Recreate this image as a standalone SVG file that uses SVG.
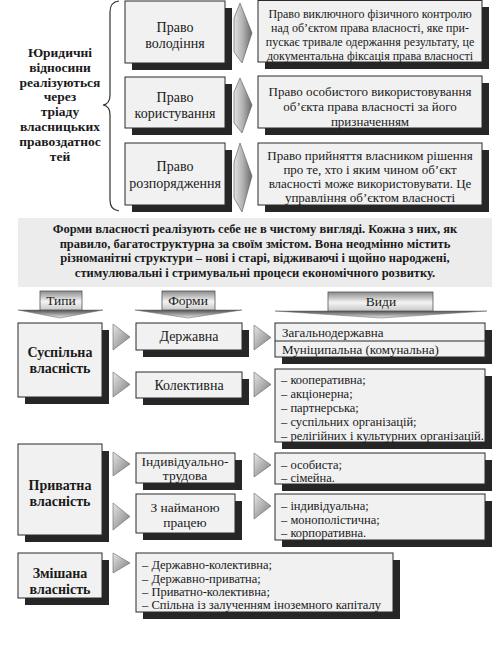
<svg xmlns="http://www.w3.org/2000/svg" width="504" height="647" viewBox="0 0 504 647">
<defs>
<linearGradient id="gChev" x1="0" y1="0" x2="1" y2="0"><stop offset="0" stop-color="#e2e2e2"/><stop offset="0.5" stop-color="#b0b0b0"/><stop offset="1" stop-color="#6a6a6a"/></linearGradient>
<linearGradient id="gTri" x1="0" y1="0" x2="1" y2="1"><stop offset="0" stop-color="#e6e6e6"/><stop offset="1" stop-color="#7a7a7a"/></linearGradient>
<linearGradient id="gHead" x1="0" y1="0" x2="0" y2="1"><stop offset="0" stop-color="#8a8a8a"/><stop offset="0.55" stop-color="#f4f4f4"/><stop offset="1" stop-color="#c8c8c8"/></linearGradient>
<linearGradient id="gHeadArr" x1="0" y1="0" x2="0" y2="1"><stop offset="0" stop-color="#505050"/><stop offset="1" stop-color="#e8e8e8"/></linearGradient>
<style>
.box{fill:#f1f1f1;stroke:#2a2a2a;stroke-width:1}
.sh{fill:#262626}
.t{font-family:"Liberation Serif","Times New Roman","DejaVu Serif",serif;fill:#1a1a1a}
.b{font-weight:bold}
.c{text-anchor:middle}
.chev{fill:url(#gChev);stroke:#555;stroke-width:0.6}
.tri{fill:url(#gTri);stroke:#666;stroke-width:0.6}
.hr{fill:url(#gHead);stroke:#555;stroke-width:0.8}
.ha{fill:url(#gHeadArr);stroke:#666;stroke-width:0.5}
.brace{fill:none;stroke:#333;stroke-width:1.2}
</style>
</defs>
<rect width="504" height="647" fill="#ffffff"/>

<!-- Top section -->
<g id="legal-relations">
<text class="t b c" font-size="13.5" x="60"><tspan x="60" y="57">Юридичні</tspan><tspan x="60" y="72">відносини</tspan><tspan x="60" y="87">реалізуються</tspan><tspan x="60" y="101">через</tspan><tspan x="60" y="116">тріаду</tspan><tspan x="60" y="131">власницьких</tspan><tspan x="60" y="146">правоздатнос</tspan><tspan x="60" y="161">тей</tspan></text>
</g>

<g id="right-possession">
<rect class="sh" x="132" y="8" width="100" height="62"/>
<rect class="box" x="125" y="1" width="100" height="62"/>
<text class="t c" font-size="14"><tspan x="175" y="32">Право</tspan><tspan x="175" y="48">володіння</tspan></text>
</g>
<g id="right-use">
<rect class="sh" x="132" y="84" width="100" height="51"/>
<rect class="box" x="125" y="77" width="100" height="51"/>
<text class="t c" font-size="14"><tspan x="175" y="102">Право</tspan><tspan x="175" y="118">користування</tspan></text>
</g>
<g id="right-disposal">
<rect class="sh" x="132" y="150" width="100" height="62"/>
<rect class="box" x="125" y="143" width="100" height="62"/>
<text class="t c" font-size="14"><tspan x="175" y="171">Право</tspan><tspan x="175" y="188">розпорядження</tspan></text>
</g>

<g id="desc-possession">
<rect class="sh" x="265" y="7" width="224" height="62"/>
<rect class="box" x="258" y="0.5" width="224" height="61.5"/>
<text class="t c" font-size="12"><tspan x="370" y="18">Право виключного фізичного контролю</tspan><tspan x="370" y="32">над об’єктом права власності, яке при-</tspan><tspan x="370" y="46">пускає тривале одержання результату, це</tspan><tspan x="370" y="60">документальна фіксація права власності</tspan></text>
</g>
<g id="desc-use">
<rect class="sh" x="265" y="83" width="224" height="52"/>
<rect class="box" x="258" y="76" width="224" height="52"/>
<text class="t c" font-size="13"><tspan x="370" y="96">Право особистого використовування</tspan><tspan x="370" y="111">об’єкта права власності за його</tspan><tspan x="370" y="126">призначенням</tspan></text>
</g>
<g id="desc-disposal">
<rect class="sh" x="265" y="150" width="224" height="62"/>
<rect class="box" x="258" y="143" width="224" height="62"/>
<text class="t c" font-size="13"><tspan x="370" y="160">Право прийняття власником рішення</tspan><tspan x="370" y="174">про те, хто і яким чином об’єкт</tspan><tspan x="370" y="188">власності може використовувати. Це</tspan><tspan x="370" y="202">управління об’єктом власності</tspan></text>
</g>

<!-- Middle statement -->
<g id="statement">
<rect x="18" y="218" width="474" height="69" fill="#ececec"/>
<text class="t b c" font-size="12.5"><tspan x="255" y="233">Форми власності реалізують себе не в чистому вигляді. Кожна з них, як</tspan><tspan x="255" y="248">правило, багатоструктурна за своїм змістом. Вона неодмінно містить</tspan><tspan x="255" y="262">різноманітні структури – нові і старі, відживаючі і щойно народжені,</tspan><tspan x="255" y="277">стимулювальні і стримувальні процеси економічного розвитку.</tspan></text>
</g>

<!-- Column headers -->
<g id="header-types">
<polygon class="ha" points="18,310 103,310 60,318"/>
<rect class="hr" x="40" y="291" width="42" height="19"/>
<text class="t c" font-size="13.5" x="61" y="305">Типи</text>
</g>
<g id="header-forms">
<polygon class="ha" points="135,310 242,310 188,318"/>
<rect class="hr" x="162" y="291" width="53" height="19"/>
<text class="t c" font-size="13.5" x="188" y="305">Форми</text>
</g>
<g id="header-kinds">
<polygon class="ha" points="275,311 487,311 381,318"/>
<rect class="hr" x="328" y="292" width="105" height="19"/>
<text class="t c" font-size="13.5" x="381" y="306">Види</text>
</g>

<!-- Public property -->
<g id="public">
<rect class="sh" x="25" y="330" width="84" height="74"/>
<rect class="box" x="18" y="323" width="84" height="74"/>
<text class="t b c" font-size="14"><tspan x="60" y="357">Суспільна</tspan><tspan x="60" y="373">власність</tspan></text>
</g>
<g id="state">
<rect class="sh" x="143" y="330" width="106" height="27"/>
<rect class="box" x="136" y="323" width="106" height="27"/>
<text class="t c" font-size="14" x="189" y="341">Державна</text>
</g>
<g id="collective">
<rect class="sh" x="143" y="379" width="106" height="26"/>
<rect class="box" x="136" y="372" width="106" height="26"/>
<text class="t c" font-size="14" x="189" y="390">Колективна</text>
</g>
<g id="state-kinds">
<rect class="sh" x="282" y="330" width="210" height="34"/>
<rect class="box" x="275" y="323" width="210" height="34"/>
<line x1="275" y1="341" x2="485" y2="341" stroke="#2a2a2a" stroke-width="1"/>
<text class="t" font-size="13"><tspan x="282" y="337">Загальнодержавна</tspan><tspan x="282" y="354">Муніципальна (комунальна)</tspan></text>
</g>
<g id="collective-kinds">
<rect class="sh" x="282" y="376" width="210" height="73"/>
<rect class="box" x="275" y="369" width="210" height="73"/>
<text class="t" font-size="12.5"><tspan x="281" y="384">– кооперативна;</tspan><tspan x="281" y="398">– акціонерна;</tspan><tspan x="281" y="412">– партнерська;</tspan><tspan x="281" y="426">– суспільних організацій;</tspan><tspan x="281" y="440">– релігійних і культурних організацій.</tspan></text>
</g>

<!-- Private property -->
<g id="private">
<rect class="sh" x="25" y="451" width="84" height="91"/>
<rect class="box" x="18" y="444" width="84" height="91"/>
<text class="t b c" font-size="14"><tspan x="60" y="490">Приватна</tspan><tspan x="60" y="506">власність</tspan></text>
</g>
<g id="individual-labor">
<rect class="sh" x="143" y="460" width="99" height="30"/>
<rect class="box" x="136" y="453" width="99" height="30"/>
<text class="t c" font-size="13.5"><tspan x="185" y="466">Індивідуально-</tspan><tspan x="185" y="480">трудова</tspan></text>
</g>
<g id="hired-labor">
<rect class="sh" x="143" y="501" width="99" height="39"/>
<rect class="box" x="136" y="494" width="99" height="39"/>
<text class="t c" font-size="13.5"><tspan x="185" y="512">З найманою</tspan><tspan x="185" y="527">працею</tspan></text>
</g>
<g id="individual-kinds">
<rect class="sh" x="282" y="460" width="210" height="31"/>
<rect class="box" x="275" y="453" width="210" height="31"/>
<text class="t" font-size="12.5"><tspan x="281" y="469">– особиста;</tspan><tspan x="281" y="482">– сімейна.</tspan></text>
</g>
<g id="hired-kinds">
<rect class="sh" x="282" y="501" width="210" height="46"/>
<rect class="box" x="275" y="494" width="210" height="46"/>
<text class="t" font-size="12.5"><tspan x="281" y="510">– індивідуальна;</tspan><tspan x="281" y="524">– монополістична;</tspan><tspan x="281" y="537">– корпоративна.</tspan></text>
</g>

<!-- Mixed property -->
<g id="mixed">
<rect class="sh" x="25" y="560" width="84" height="45"/>
<rect class="box" x="18" y="553" width="84" height="45"/>
<text class="t b c" font-size="14"><tspan x="60" y="578">Змішана</tspan><tspan x="60" y="594">власність</tspan></text>
</g>
<g id="mixed-kinds">
<rect class="sh" x="143" y="560" width="257" height="59"/>
<rect class="box" x="136" y="553" width="257" height="59"/>
<text class="t" font-size="12.5"><tspan x="142" y="569">– Державно-колективна;</tspan><tspan x="142" y="583">– Державно-приватна;</tspan><tspan x="142" y="596">– Приватно-колективна;</tspan><tspan x="142" y="609">– Спільна із залученням іноземного капіталу</tspan></text>
</g>

<!-- Connectors -->
<g id="connectors">
<path class="brace" d="M119,1 Q110,2 110,12 L110,95 Q110,104 103,105 Q110,106 110,115 L110,200 Q110,210 119,211"/>
<path class="chev" d="M240,3 L252,33 L242,63 L234,52 L234,18 Z"/>
<path class="chev" d="M240,78 L252,105 L242,133 L234,123 L234,92 Z"/>
<path class="chev" d="M240,143 L252,176 L242,212 L234,198 L234,162 Z"/>
<polygon class="tri" points="113,324 113,350 130,337"/>
<polygon class="tri" points="113,372 113,397 130,384.5"/>
<polygon class="tri" points="254,325 254,350 271,337.5"/>
<polygon class="tri" points="254,372 254,397 271,384.5"/>
<polygon class="tri" points="113,452 113,476 130,464"/>
<polygon class="tri" points="113,503 113,530 130,516.5"/>
<polygon class="tri" points="254,453 254,477 271,465"/>
<polygon class="tri" points="254,493 254,519 271,506"/>
<polygon class="tri" points="113,553 113,573 130,563"/>
</g>
</svg>
